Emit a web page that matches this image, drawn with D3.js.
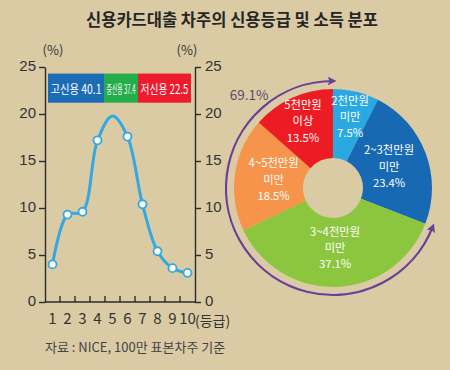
<!DOCTYPE html>
<meta charset="utf-8">
<style>
body { margin: 0; background: #dacba4; }
svg { display: block; font-family: "Noto Sans CJK KR", "Noto Sans", sans-serif; }
.axis path, .axis line { stroke: #2b2b2b; stroke-width: 1.4px; }
.axis text { font-size: 15px; fill: #333; }
</style>
<body>
<script src="https://d3js.org/d3.v7.min.js"></script>
<script>

// credit grade distribution (%)
var grades = [1, 2, 3, 4, 5, 6, 7, 8, 9, 10];
var gradeShares = [4.0, 9.3, 9.6, 17.2, 19.8, 17.6, 10.4, 5.4, 3.6, 3.1];
var markedGrades = [1, 2, 3, 4, 6, 7, 8, 9, 10];
var yTicks = [0, 5, 10, 15, 20, 25];

// credit groups shown in the box
var groupNames = ["고신용", "중신용", "저신용"];
var groupValues = [40.1, 37.4, 22.5];

// income distribution (%)
var incomeLines = [["2천만원", "미만"], ["2~3천만원", "미만"], ["3~4천만원", "미만"], ["4~5천만원", "미만"], ["5천만원", "이상"]];
var incomeShares = [7.5, 23.4, 37.1, 18.5, 13.5];

var W = 450, H = 370;
var svg = d3.select("body").append("svg")
    .attr("width", W)
    .attr("height", H);

svg.append("rect").attr("width", W).attr("height", H).attr("fill", "#dacba4");

// title
svg.append("text")
    .attr("x", 232).attr("y", 26)
    .attr("text-anchor", "middle")
    .style("font-size", "16.5px")
    .style("font-weight", "bold")
    .style("fill", "#262626")
    .text("신용카드대출 차주의 신용등급 및 소득 분포");

// ---- left: line chart ----
var x = d3.scaleBand().domain(grades).range([45, 195]);
var y = d3.scaleLinear().domain([0, 25]).range([302, 67]);

var data = grades.map(function(g, i) { return {grade: g, value: gradeShares[i]}; });

svg.append("g")
    .attr("class", "axis")
    .attr("transform", "translate(45,0)")
    .call(d3.axisLeft(y).tickValues(yTicks).tickSize(6).tickPadding(3).tickSizeOuter(0))
    .selectAll("text").attr("dy", "0.22em");

svg.append("g")
    .attr("class", "axis")
    .attr("transform", "translate(195,0)")
    .call(d3.axisRight(y).tickValues(yTicks).tickSize(6).tickPadding(4).tickSizeOuter(0))
    .selectAll("text").attr("dy", "0.22em");

// bottom axis: labels at band centres, ticks between bands
var xAxis = svg.append("g")
    .attr("class", "axis")
    .attr("transform", "translate(0,302)");
xAxis.append("line")
    .attr("x1", 45).attr("x2", 195)
    .attr("stroke", "#2b2b2b").attr("stroke-width", 1.4);
xAxis.selectAll(".tk")
    .data(grades.slice(1))
    .enter().append("line")
    .attr("class", "tk")
    .attr("x1", function(d) { return x(d); })
    .attr("x2", function(d) { return x(d); })
    .attr("y1", 0).attr("y2", -6)
    .attr("stroke", "#2b2b2b").attr("stroke-width", 1.2);
xAxis.selectAll(".lb")
    .data(grades)
    .enter().append("text")
    .attr("class", "lb")
    .attr("x", function(d) { return x(d) + x.bandwidth() / 2; })
    .attr("y", 22)
    .attr("text-anchor", "middle")
    .text(function(d) { return d; });
xAxis.append("text")
    .attr("x", 195).attr("y", 24)
    .style("font-size", "14px")
    .text("(등급)");

svg.append("text").attr("x", 53).attr("y", 55).attr("text-anchor", "middle")
    .style("font-size", "13px").style("fill", "#333").text("(%)");
svg.append("text").attr("x", 187).attr("y", 55).attr("text-anchor", "middle")
    .style("font-size", "13px").style("fill", "#333").text("(%)");

// credit group box, text squeezed to fit each block
var boxW = [56, 34, 53];
var boxColors = ["#1c6cb5", "#25ad4b", "#ec1c2c"];
var bx = 48;
groupNames.forEach(function(name, i) {
  svg.append("rect")
      .attr("x", bx).attr("y", y(24.3))
      .attr("width", boxW[i]).attr("height", y(21.2) - y(24.3))
      .attr("fill", boxColors[i]);
  var t = svg.append("text")
      .style("font-size", "12.5px")
      .style("fill", "#fff")
      .text(name + " " + groupValues[i]);
  var w = t.node().getComputedTextLength();
  var s = Math.min(1, (boxW[i] - 5) / w);
  t.attr("transform", "translate(" + (bx + 2.5) + "," + y(22.1) + ") scale(" + s + ",1)");
  bx += boxW[i];
});

var line = d3.line()
    .curve(d3.curveCatmullRom)
    .x(function(d) { return x(d.grade) + x.bandwidth() / 2; })
    .y(function(d) { return y(d.value); });

svg.append("path")
    .datum(data)
    .attr("d", line)
    .attr("fill", "none")
    .attr("stroke", "#35a8e0")
    .attr("stroke-width", 3);

svg.selectAll(".pt")
    .data(data.filter(function(d) { return markedGrades.indexOf(d.grade) >= 0; }))
    .enter().append("circle")
    .attr("class", "pt")
    .attr("cx", function(d) { return x(d.grade) + x.bandwidth() / 2; })
    .attr("cy", function(d) { return y(d.value); })
    .attr("r", 4)
    .attr("fill", "#fff")
    .attr("stroke", "#35a8e0")
    .attr("stroke-width", 1.8);

// source
svg.append("text")
    .attr("x", 45).attr("y", 352)
    .style("font-size", "13px")
    .style("fill", "#444")
    .text("자료 : NICE, 100만 표본차주 기준");

// ---- right: donut ----
var cx = 333, cy = 188;
var pieColors = ["#2aa9e0", "#1769b3", "#8cc63f", "#f6944b", "#ed1c24"];
var pie = d3.pie().sort(null).value(function(d) { return d; });
var arcs = pie(incomeShares);
var arc = d3.arc().innerRadius(30).outerRadius(99);

var g = svg.append("g").attr("transform", "translate(" + cx + "," + cy + ")");

g.selectAll(".slice")
    .data(arcs)
    .enter().append("path")
    .attr("class", "slice")
    .attr("d", arc)
    .attr("fill", function(d, i) { return pieColors[i]; });

// one text per line so lines stack without overlapping
var lineGap = 16.4;
arcs.forEach(function(d, i) {
  var r = d.data < 15 ? 73 : 60;
  var c = d3.arc().innerRadius(r).outerRadius(r).centroid(d);
  var lines = incomeLines[i].concat([d.data + "%"]);
  lines.forEach(function(s, k) {
    g.append("text")
        .attr("x", c[0])
        .attr("y", c[1] + (k - 1) * lineGap + 4)
        .attr("text-anchor", "middle")
        .style("font-size", "11.3px")
        .style("fill", "#fff")
        .text(s);
  });
});

// purple arrow arc around the last three slices
var defs = svg.append("defs");
defs.append("marker")
    .attr("id", "head")
    .attr("viewBox", "0 0 10 10")
    .attr("refX", 6).attr("refY", 5)
    .attr("markerWidth", 4).attr("markerHeight", 4)
    .attr("orient", "auto-start-reverse")
    .append("path")
    .attr("d", "M0,0L10,5L0,10L2,5Z")
    .attr("fill", "#6b3f99");

var a0 = arcs[2].startAngle, a1 = arcs[4].endAngle;
var p = d3.path();
var R = 107;
p.arc(0, 0, R, a0 - Math.PI / 2, a1 - Math.PI / 2, false);
g.append("path")
    .attr("d", p.toString())
    .attr("fill", "none")
    .attr("stroke", "#6b3f99")
    .attr("stroke-width", 2.2)
    .attr("marker-start", "url(#head)")
    .attr("marker-end", "url(#head)");

var outerSum = d3.sum(incomeShares.slice(2));
g.append("text")
    .attr("x", -84).attr("y", -88)
    .attr("text-anchor", "middle")
    .style("font-size", "13.5px")
    .style("fill", "#5a4a6b")
    .text(outerSum.toFixed(1) + "%");

</script>
</body>
